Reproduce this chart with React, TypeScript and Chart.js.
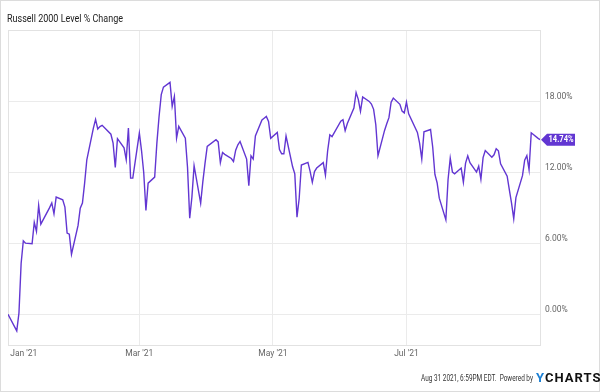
import React, { useEffect, useRef } from 'react';
import { Chart, registerables } from 'chart.js';

Chart.register(...registerables);

const dates = [
  '2020-12-31', '2021-01-04', '2021-01-05', '2021-01-06', '2021-01-07', '2021-01-08', '2021-01-11', '2021-01-12',
  '2021-01-13', '2021-01-14', '2021-01-15', '2021-01-19', '2021-01-20', '2021-01-21', '2021-01-22', '2021-01-25',
  '2021-01-26', '2021-01-27', '2021-01-28', '2021-01-29', '2021-02-01', '2021-02-02', '2021-02-03', '2021-02-04',
  '2021-02-05', '2021-02-08', '2021-02-09', '2021-02-10', '2021-02-11', '2021-02-12', '2021-02-16', '2021-02-17',
  '2021-02-18', '2021-02-19', '2021-02-22', '2021-02-23', '2021-02-24', '2021-02-25', '2021-02-26', '2021-03-01',
  '2021-03-02', '2021-03-03', '2021-03-04', '2021-03-05', '2021-03-08', '2021-03-09', '2021-03-10', '2021-03-11',
  '2021-03-12', '2021-03-15', '2021-03-16', '2021-03-17', '2021-03-18', '2021-03-19', '2021-03-22', '2021-03-23',
  '2021-03-24', '2021-03-25', '2021-03-26', '2021-03-29', '2021-03-30', '2021-03-31', '2021-04-01', '2021-04-05',
  '2021-04-06', '2021-04-07', '2021-04-08', '2021-04-09', '2021-04-12', '2021-04-13', '2021-04-14', '2021-04-15',
  '2021-04-16', '2021-04-19', '2021-04-20', '2021-04-21', '2021-04-22', '2021-04-23', '2021-04-26', '2021-04-27',
  '2021-04-28', '2021-04-29', '2021-04-30', '2021-05-03', '2021-05-04', '2021-05-05', '2021-05-06', '2021-05-07',
  '2021-05-10', '2021-05-11', '2021-05-12', '2021-05-13', '2021-05-14', '2021-05-17', '2021-05-18', '2021-05-19',
  '2021-05-20', '2021-05-21', '2021-05-24', '2021-05-25', '2021-05-26', '2021-05-27', '2021-05-28', '2021-06-01',
  '2021-06-02', '2021-06-03', '2021-06-04', '2021-06-07', '2021-06-08', '2021-06-09', '2021-06-10', '2021-06-11',
  '2021-06-14', '2021-06-15', '2021-06-16', '2021-06-17', '2021-06-18', '2021-06-21', '2021-06-22', '2021-06-23',
  '2021-06-24', '2021-06-25', '2021-06-28', '2021-06-29', '2021-06-30', '2021-07-01', '2021-07-02', '2021-07-06',
  '2021-07-07', '2021-07-08', '2021-07-09', '2021-07-12', '2021-07-13', '2021-07-14', '2021-07-15', '2021-07-16',
  '2021-07-19', '2021-07-20', '2021-07-21', '2021-07-22', '2021-07-23', '2021-07-26', '2021-07-27', '2021-07-28',
  '2021-07-29', '2021-07-30', '2021-08-02', '2021-08-03', '2021-08-04', '2021-08-05', '2021-08-06', '2021-08-09',
  '2021-08-10', '2021-08-11', '2021-08-12', '2021-08-13', '2021-08-16', '2021-08-17', '2021-08-18', '2021-08-19',
  '2021-08-20', '2021-08-23', '2021-08-24', '2021-08-25', '2021-08-26', '2021-08-27', '2021-08-30', '2021-08-31',
];

const values = [
  0.0, -1.41, 0.1, 4.3, 6.2, 6.0, 5.95, 7.75,
  6.99, 9.18, 7.61, 9.0, 9.4, 8.48, 9.89, 9.66,
  9.04, 6.85, 6.76, 5.07, 7.5, 8.96, 9.38, 11.07,
  13.04, 15.72, 16.45, 15.64, 15.85, 15.95, 15.2, 14.45,
  12.4, 14.82, 14.05, 13.05, 15.72, 11.49, 11.49, 15.3,
  13.8, 11.95, 8.76, 11.07, 11.58, 14.45, 16.7, 18.54,
  19.18, 19.58, 17.55, 18.39, 14.87, 15.86, 14.87, 12.4,
  8.11, 9.89, 12.54, 9.38, 11.2, 12.76, 14.17, 14.73,
  14.55, 12.8, 13.66, 13.5, 13.15, 12.9, 13.85, 14.31,
  14.59, 13.1, 10.85, 13.38, 13.1, 15.05, 16.4, 16.55,
  16.7, 16.28, 14.85, 15.35, 13.9, 13.55, 13.55, 15.05,
  12.45, 11.85, 8.2, 9.77, 12.6, 12.82, 12.06, 11.14,
  12.05, 12.34, 12.8, 11.75, 13.8, 15.15, 15.0, 16.3,
  16.42, 15.5, 16.1, 17.41, 18.72, 18.14, 17.13, 18.34,
  17.97, 17.75, 17.3, 16.0, 13.38, 15.52, 16.08, 16.6,
  17.9, 18.25, 17.72, 17.15, 17.0, 17.9, 16.92, 15.35,
  14.45, 13.1, 15.4, 15.6, 14.1, 11.8, 11.1, 9.8,
  7.97, 11.35, 13.18, 12.0, 11.86, 12.34, 11.15, 12.76,
  13.38, 12.8, 12.0, 12.5, 11.4, 13.22, 13.82, 13.25,
  13.46, 13.97, 13.8, 12.7, 11.66, 10.5, 9.38, 8.07,
  9.85, 11.7, 13.0, 13.39, 12.2, 15.32, 14.87, 14.74,
];

const xTickDates = ['2021-01-01', '2021-03-01', '2021-05-01', '2021-07-01'];
const xTickLabels = ["Jan '21", "Mar '21", "May '21", "Jul '21"];
const yTickValues = [0, 6, 12, 18];
const titleText = 'Russell 2000 Level % Change';
const footerText = 'Aug 31 2021, 6:59PM EDT.  Powered by';
const brandFirst = 'Y';
const brandRest = 'CHARTS';

const BASE = Date.UTC(2021, 0, 1);
const dayOf = (s: string) => {
  const [y, m, d] = s.split('-').map(Number);
  return (Date.UTC(y, m - 1, d) - BASE) / 86400000;
};

const LINE = '#6236d2';
const GRID = '#ebebeb';

const decorPlugin = {
  id: 'decor',
  beforeDraw(chart: any) {
    const { ctx, width, height } = chart;
    ctx.save();
    ctx.fillStyle = '#ffffff';
    ctx.fillRect(0, 0, width, height);
    ctx.restore();
  },
  beforeDatasetsDraw(chart: any) {
    const { ctx, chartArea: a, width, height } = chart;
    ctx.save();
    ctx.strokeStyle = '#e2e2e2';
    ctx.lineWidth = 1;
    ctx.strokeRect(Math.round(a.left) + 0.5, Math.round(a.top) + 0.5, Math.round(a.right - a.left), Math.round(a.bottom - a.top));
    ctx.strokeStyle = '#dcdcdc';
    ctx.strokeRect(0.5, 0.5, width - 1, height - 1);
    ctx.restore();
  },
  afterDraw(chart: any) {
    const { ctx, chartArea: a } = chart;
    // title
    ctx.save();
    ctx.font = '11px Roboto';
    ctx.fillStyle = '#222222';
    ctx.textBaseline = 'alphabetic';
    let w = ctx.measureText(titleText).width;
    let sx = Math.min(1, 116 / w);
    ctx.translate(7, 21.5);
    ctx.scale(sx, 1);
    ctx.fillText(titleText, 0, 0);
    ctx.restore();

    // end label
    const ds = chart.data.datasets[0].data;
    const last = ds[ds.length - 1];
    const py = chart.scales.y.getPixelForValue(last.y);
    const x0 = a.right + 1;
    ctx.save();
    ctx.fillStyle = LINE;
    ctx.beginPath();
    ctx.moveTo(x0, py);
    ctx.lineTo(x0 + 6, py - 6);
    ctx.lineTo(x0 + 34, py - 6);
    ctx.lineTo(x0 + 34, py + 6);
    ctx.lineTo(x0 + 6, py + 6);
    ctx.closePath();
    ctx.fill();
    ctx.fillStyle = '#ffffff';
    ctx.font = 'bold 9px Roboto';
    ctx.textAlign = 'center';
    ctx.textBaseline = 'middle';
    const lbl = last.y.toFixed(2) + '%';
    const lw = ctx.measureText(lbl).width;
    ctx.translate(x0 + 20, py + 0.5);
    ctx.scale(Math.min(1, 25 / lw), 1);
    ctx.fillText(lbl, 0, 0);
    ctx.restore();

    // footer
    ctx.save();
    ctx.font = '8.5px Roboto';
    ctx.fillStyle = '#333333';
    ctx.textBaseline = 'alphabetic';
    w = ctx.measureText(footerText).width;
    sx = Math.min(1, 112 / w);
    ctx.translate(533, 381);
    ctx.scale(sx, 1);
    ctx.textAlign = 'right';
    ctx.fillText(footerText, 0, 0);
    ctx.restore();

    ctx.save();
    ctx.font = 'bold 13px Roboto';
    ctx.textBaseline = 'alphabetic';
    (ctx as any).letterSpacing = '1px';
    ctx.fillStyle = '#1a7fd4';
    ctx.fillText(brandFirst, 536, 382);
    const yw = ctx.measureText(brandFirst).width;
    ctx.fillStyle = '#111111';
    ctx.fillText(brandRest, 536 + yw, 382);
    ctx.restore();
  },
};

export default function App() {
  const ref = useRef<HTMLCanvasElement>(null);

  useEffect(() => {
    if (!ref.current) return;
    Chart.defaults.font.family = 'Roboto';
    const xMin = dayOf(dates[0]);
    const xMax = dayOf(dates[dates.length - 1]);
    const points = dates.map((d, i) => ({ x: dayOf(d), y: values[i] }));

    const chart = new Chart(ref.current, {
      type: 'line',
      data: {
        datasets: [
          {
            data: points,
            borderColor: LINE,
            borderWidth: 1.4,
            pointRadius: 0,
            tension: 0,
            fill: false,
          },
        ],
      },
      options: {
        animation: false,
        responsive: false,
        devicePixelRatio: 1,
        layout: { padding: { left: 8, top: 30, right: 8, bottom: 0 }, autoPadding: false },
        plugins: { legend: { display: false }, tooltip: { enabled: false }, title: { display: false } },
        scales: {
          x: {
            type: 'linear',
            min: xMin,
            max: xMax,
            afterBuildTicks: (scale: any) => {
              scale.ticks = [...xTickDates.map((d) => ({ value: dayOf(d) })), { value: xMax }];
            },
            afterFit: (scale: any) => {
              scale.height = 47;
            },
            grid: {
              drawTicks: false,
              color: (c: any) => (c.tick && c.tick.value === 0 ? 'rgba(0,0,0,0)' : GRID),
            },
            border: { display: false },
            ticks: {
              align: 'inner',
              padding: 4,
              maxRotation: 0,
              autoSkip: false,
              color: '#666666',
              font: { size: 8.5 },
              callback: (_v: any, i: number) => xTickLabels[i] ?? '',
            },
          },
          y: {
            type: 'linear',
            position: 'right',
            min: -2.6,
            max: 24,
            afterBuildTicks: (scale: any) => {
              scale.ticks = yTickValues.map((v) => ({ value: v }));
            },
            afterFit: (scale: any) => {
              scale.width = 52;
            },
            grid: { drawTicks: false, color: GRID },
            border: { display: false },
            ticks: {
              padding: 5,
              labelOffset: -4,
              color: '#666666',
              font: { size: 8.5 },
              callback: (v: any) => Number(v).toFixed(2) + '%',
            },
          },
        },
      },
      plugins: [decorPlugin],
    } as any);

    return () => chart.destroy();
  }, []);

  return (
    <div style={{ position: 'fixed', left: 0, top: 0, width: 600, height: 392, background: '#fff' }}>
      <canvas ref={ref} width={600} height={392} style={{ display: 'block', width: 600, height: 392 }} />
    </div>
  );
}
